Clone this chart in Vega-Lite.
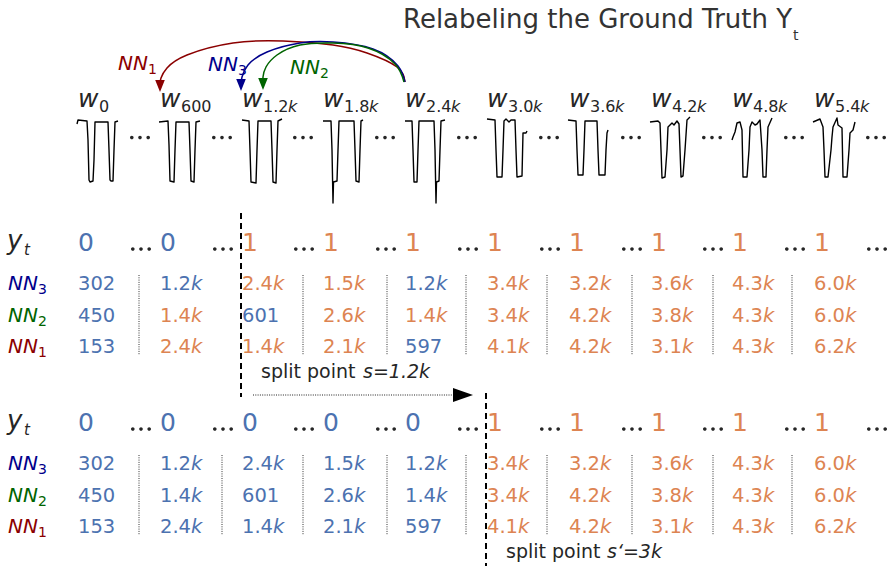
{
 "$schema": "https://vega.github.io/schema/vega-lite/v6.json",
 "width": 893, "height": 568, "padding": 0,
 "autosize": {"type": "fit", "contains": "padding"},
 "background": "white",
 "config": {"view": {"stroke": null}, "text": {"font": "DejaVu Sans", "baseline": "alphabetic", "align": "left"}},
 "datasets": {
  "title": [{"x": 403, "y": 28, "s": "Relabeling the Ground Truth Y"}],
  "titlesub": [{"x": 793, "y": 40, "s": "t"}],
  "windows": [
   {"x": 78, "y": 107, "sub": "0", "k": false},
   {"x": 160, "y": 107, "sub": "600", "k": false},
   {"x": 242, "y": 107, "sub": "1.2", "k": true},
   {"x": 323, "y": 107, "sub": "1.8", "k": true},
   {"x": 405, "y": 107, "sub": "2.4", "k": true},
   {"x": 487, "y": 107, "sub": "3.0", "k": true},
   {"x": 569, "y": 107, "sub": "3.6", "k": true},
   {"x": 651, "y": 107, "sub": "4.2", "k": true},
   {"x": 732, "y": 107, "sub": "4.8", "k": true},
   {"x": 814, "y": 107, "sub": "5.4", "k": true}
  ],
  "waves": [
   {"w":0,"i":0,"x":77,"y":124},{"w":0,"i":1,"x":78,"y":120},{"w":0,"i":2,"x":87,"y":121},{"w":0,"i":3,"x":88,"y":140},{"w":0,"i":4,"x":89,"y":180},{"w":0,"i":5,"x":90,"y":182},{"w":0,"i":6,"x":93,"y":181},{"w":0,"i":7,"x":94,"y":160},{"w":0,"i":8,"x":95,"y":122},{"w":0,"i":9,"x":108,"y":122},{"w":0,"i":10,"x":109,"y":150},{"w":0,"i":11,"x":110,"y":180},{"w":0,"i":12,"x":111,"y":181},{"w":0,"i":13,"x":113,"y":181},{"w":0,"i":14,"x":114,"y":150},{"w":0,"i":15,"x":115,"y":122},{"w":0,"i":16,"x":118,"y":121},
   {"w":1,"i":0,"x":159,"y":122},{"w":1,"i":1,"x":168,"y":121},{"w":1,"i":2,"x":169,"y":145},{"w":1,"i":3,"x":170,"y":181},{"w":1,"i":4,"x":174,"y":182},{"w":1,"i":5,"x":175,"y":150},{"w":1,"i":6,"x":176,"y":122},{"w":1,"i":7,"x":189,"y":122},{"w":1,"i":8,"x":190,"y":150},{"w":1,"i":9,"x":191,"y":181},{"w":1,"i":10,"x":194,"y":182},{"w":1,"i":11,"x":195,"y":150},{"w":1,"i":12,"x":196,"y":122},{"w":1,"i":13,"x":200,"y":121},
   {"w":2,"i":0,"x":242,"y":120},{"w":2,"i":1,"x":249,"y":121},{"w":2,"i":2,"x":250,"y":150},{"w":2,"i":3,"x":251,"y":182},{"w":2,"i":4,"x":256,"y":183},{"w":2,"i":5,"x":257,"y":150},{"w":2,"i":6,"x":258,"y":121},{"w":2,"i":7,"x":271,"y":121},{"w":2,"i":8,"x":272,"y":150},{"w":2,"i":9,"x":273,"y":182},{"w":2,"i":10,"x":276,"y":183},{"w":2,"i":11,"x":277,"y":150},{"w":2,"i":12,"x":278,"y":121},{"w":2,"i":13,"x":282,"y":119},
   {"w":3,"i":0,"x":323,"y":121},{"w":3,"i":1,"x":331,"y":121},{"w":3,"i":2,"x":332,"y":150},{"w":3,"i":3,"x":333,"y":203},{"w":3,"i":4,"x":333.5,"y":182},{"w":3,"i":5,"x":337,"y":181},{"w":3,"i":6,"x":338,"y":150},{"w":3,"i":7,"x":339,"y":121},{"w":3,"i":8,"x":354,"y":121},{"w":3,"i":9,"x":355,"y":150},{"w":3,"i":10,"x":356,"y":181},{"w":3,"i":11,"x":359,"y":182},{"w":3,"i":12,"x":360,"y":150},{"w":3,"i":13,"x":361,"y":121},{"w":3,"i":14,"x":363,"y":120},
   {"w":4,"i":0,"x":405,"y":121},{"w":4,"i":1,"x":412,"y":121},{"w":4,"i":2,"x":413,"y":150},{"w":4,"i":3,"x":414,"y":182},{"w":4,"i":4,"x":417,"y":182},{"w":4,"i":5,"x":418,"y":150},{"w":4,"i":6,"x":419,"y":121},{"w":4,"i":7,"x":434,"y":121},{"w":4,"i":8,"x":435,"y":150},{"w":4,"i":9,"x":436,"y":203},{"w":4,"i":10,"x":436.5,"y":182},{"w":4,"i":11,"x":439,"y":181},{"w":4,"i":12,"x":440,"y":150},{"w":4,"i":13,"x":441,"y":121},{"w":4,"i":14,"x":445,"y":120},
   {"w":5,"i":0,"x":487,"y":119},{"w":5,"i":1,"x":495,"y":120},{"w":5,"i":2,"x":496,"y":150},{"w":5,"i":3,"x":497,"y":177},{"w":5,"i":4,"x":502,"y":177},{"w":5,"i":5,"x":503,"y":150},{"w":5,"i":6,"x":504,"y":121},{"w":5,"i":7,"x":506,"y":119},{"w":5,"i":8,"x":509,"y":122},{"w":5,"i":9,"x":511,"y":120},{"w":5,"i":10,"x":515,"y":120},{"w":5,"i":11,"x":516,"y":150},{"w":5,"i":12,"x":517,"y":177},{"w":5,"i":13,"x":522,"y":176},{"w":5,"i":14,"x":523,"y":133},{"w":5,"i":15,"x":526,"y":133},{"w":5,"i":16,"x":527,"y":131},
   {"w":6,"i":0,"x":568,"y":120},{"w":6,"i":1,"x":576,"y":121},{"w":6,"i":2,"x":577,"y":150},{"w":6,"i":3,"x":578,"y":175},{"w":6,"i":4,"x":583,"y":175},{"w":6,"i":5,"x":584,"y":150},{"w":6,"i":6,"x":585,"y":121},{"w":6,"i":7,"x":597,"y":121},{"w":6,"i":8,"x":598,"y":150},{"w":6,"i":9,"x":599,"y":175},{"w":6,"i":10,"x":605,"y":175},{"w":6,"i":11,"x":606,"y":150},{"w":6,"i":12,"x":607,"y":133},{"w":6,"i":13,"x":608,"y":130},
   {"w":7,"i":0,"x":650,"y":122},{"w":7,"i":1,"x":658,"y":121},{"w":7,"i":2,"x":660,"y":123},{"w":7,"i":3,"x":661,"y":150},{"w":7,"i":4,"x":662,"y":178},{"w":7,"i":5,"x":665,"y":177},{"w":7,"i":6,"x":667,"y":150},{"w":7,"i":7,"x":668,"y":127},{"w":7,"i":8,"x":672,"y":123},{"w":7,"i":9,"x":674,"y":125},{"w":7,"i":10,"x":677,"y":121},{"w":7,"i":11,"x":679,"y":124},{"w":7,"i":12,"x":680,"y":150},{"w":7,"i":13,"x":681,"y":177},{"w":7,"i":14,"x":683,"y":176},{"w":7,"i":15,"x":685,"y":150},{"w":7,"i":16,"x":687,"y":120},{"w":7,"i":17,"x":690,"y":117},
   {"w":8,"i":0,"x":732,"y":140},{"w":8,"i":1,"x":733,"y":137},{"w":8,"i":2,"x":735,"y":132},{"w":8,"i":3,"x":737,"y":123},{"w":8,"i":4,"x":740,"y":122},{"w":8,"i":5,"x":742,"y":130},{"w":8,"i":6,"x":743,"y":177},{"w":8,"i":7,"x":747,"y":177},{"w":8,"i":8,"x":749,"y":150},{"w":8,"i":9,"x":750,"y":127},{"w":8,"i":10,"x":752,"y":122},{"w":8,"i":11,"x":755,"y":125},{"w":8,"i":12,"x":757,"y":124},{"w":8,"i":13,"x":760,"y":120},{"w":8,"i":14,"x":762,"y":150},{"w":8,"i":15,"x":763,"y":177},{"w":8,"i":16,"x":766,"y":177},{"w":8,"i":17,"x":767,"y":150},{"w":8,"i":18,"x":768,"y":127},{"w":8,"i":19,"x":772,"y":118},
   {"w":9,"i":0,"x":813,"y":122},{"w":9,"i":1,"x":820,"y":119},{"w":9,"i":2,"x":823,"y":127},{"w":9,"i":3,"x":824,"y":150},{"w":9,"i":4,"x":825,"y":177},{"w":9,"i":5,"x":828,"y":177},{"w":9,"i":6,"x":831,"y":150},{"w":9,"i":7,"x":832,"y":137},{"w":9,"i":8,"x":833,"y":127},{"w":9,"i":9,"x":837,"y":118},{"w":9,"i":10,"x":838,"y":125},{"w":9,"i":11,"x":842,"y":128},{"w":9,"i":12,"x":843,"y":177},{"w":9,"i":13,"x":847,"y":177},{"w":9,"i":14,"x":849,"y":150},{"w":9,"i":15,"x":850,"y":133},{"w":9,"i":16,"x":853,"y":130},{"w":9,"i":17,"x":855,"y":122}
  ],
  "arcs": [
   {"c":"NN1","i":0,"x":405,"y":82},{"c":"NN1","i":1,"x":397,"y":67},{"c":"NN1","i":2,"x":367,"y":53},{"c":"NN1","i":3,"x":333,"y":45},{"c":"NN1","i":4,"x":283,"y":41},{"c":"NN1","i":5,"x":233,"y":43},{"c":"NN1","i":6,"x":187,"y":55},{"c":"NN1","i":7,"x":167,"y":68},{"c":"NN1","i":8,"x":161,"y":78},{"c":"NN1","i":9,"x":160,"y":84},
   {"c":"NN3","i":0,"x":405,"y":82},{"c":"NN3","i":1,"x":398,"y":66},{"c":"NN3","i":2,"x":373,"y":49},{"c":"NN3","i":3,"x":333,"y":42},{"c":"NN3","i":4,"x":300,"y":43},{"c":"NN3","i":5,"x":267,"y":52},{"c":"NN3","i":6,"x":248,"y":65},{"c":"NN3","i":7,"x":242,"y":77},{"c":"NN3","i":8,"x":241,"y":84},
   {"c":"NN2","i":0,"x":404,"y":82},{"c":"NN2","i":1,"x":395,"y":64},{"c":"NN2","i":2,"x":368,"y":48},{"c":"NN2","i":3,"x":333,"y":43},{"c":"NN2","i":4,"x":300,"y":45},{"c":"NN2","i":5,"x":277,"y":55},{"c":"NN2","i":6,"x":266,"y":67},{"c":"NN2","i":7,"x":263,"y":77},{"c":"NN2","i":8,"x":263,"y":83}
  ],
  "archeads": [
   {"c":"NN1","x":160,"y":86},{"c":"NN3","x":241,"y":85},{"c":"NN2","x":263,"y":84}
  ],
  "nnlab": [
   {"x":118,"y":70,"n":"1","c":"NN1"},{"x":208,"y":71,"n":"3","c":"NN3"},{"x":290,"y":74,"n":"2","c":"NN2"},
   {"x":8,"y":290,"n":"3","c":"NN3"},{"x":8,"y":322,"n":"2","c":"NN2"},{"x":8,"y":353,"n":"1","c":"NN1"},
   {"x":8,"y":470,"n":"3","c":"NN3"},{"x":8,"y":502,"n":"2","c":"NN2"},{"x":8,"y":533,"n":"1","c":"NN1"}
  ],
  "ytlab": [{"x":7,"y":249},{"x":7,"y":429}],
  "dots": [
   {"x":140,"y":137.5},{"x":222,"y":137.5},{"x":303,"y":137.5},{"x":385,"y":137.5},{"x":467,"y":137.5},{"x":549,"y":137.5},{"x":631,"y":137.5},{"x":712,"y":137.5},{"x":794,"y":137.5},{"x":876,"y":137.5},
   {"x":141,"y":249},{"x":223,"y":249},{"x":304,"y":249},{"x":386,"y":249},{"x":468,"y":249},{"x":550,"y":249},{"x":632,"y":249},{"x":713,"y":249},{"x":795,"y":249},{"x":877,"y":249},
   {"x":141,"y":429},{"x":223,"y":429},{"x":304,"y":429},{"x":386,"y":429},{"x":468,"y":429},{"x":550,"y":429},{"x":632,"y":429},{"x":713,"y":429},{"x":795,"y":429},{"x":877,"y":429}
  ],
  "yt": [
   {"x":78,"y":251,"v":"0","c":"zero"},{"x":160,"y":251,"v":"0","c":"zero"},{"x":242,"y":251,"v":"1","c":"one"},{"x":323,"y":251,"v":"1","c":"one"},{"x":405,"y":251,"v":"1","c":"one"},{"x":487,"y":251,"v":"1","c":"one"},{"x":569,"y":251,"v":"1","c":"one"},{"x":651,"y":251,"v":"1","c":"one"},{"x":732,"y":251,"v":"1","c":"one"},{"x":814,"y":251,"v":"1","c":"one"},
   {"x":78,"y":431,"v":"0","c":"zero"},{"x":160,"y":431,"v":"0","c":"zero"},{"x":242,"y":431,"v":"0","c":"zero"},{"x":323,"y":431,"v":"0","c":"zero"},{"x":405,"y":431,"v":"0","c":"zero"},{"x":487,"y":431,"v":"1","c":"one"},{"x":569,"y":431,"v":"1","c":"one"},{"x":651,"y":431,"v":"1","c":"one"},{"x":732,"y":431,"v":"1","c":"one"},{"x":814,"y":431,"v":"1","c":"one"}
  ],
  "cells": [
   {"x":78,"y":290,"v":"302","k":false,"c":"zero"},{"x":160,"y":290,"v":"1.2","k":true,"c":"zero"},{"x":242,"y":290,"v":"2.4","k":true,"c":"one"},{"x":323,"y":290,"v":"1.5","k":true,"c":"one"},{"x":405,"y":290,"v":"1.2","k":true,"c":"zero"},{"x":487,"y":290,"v":"3.4","k":true,"c":"one"},{"x":569,"y":290,"v":"3.2","k":true,"c":"one"},{"x":651,"y":290,"v":"3.6","k":true,"c":"one"},{"x":732,"y":290,"v":"4.3","k":true,"c":"one"},{"x":814,"y":290,"v":"6.0","k":true,"c":"one"},
   {"x":78,"y":322,"v":"450","k":false,"c":"zero"},{"x":160,"y":322,"v":"1.4","k":true,"c":"one"},{"x":242,"y":322,"v":"601","k":false,"c":"zero"},{"x":323,"y":322,"v":"2.6","k":true,"c":"one"},{"x":405,"y":322,"v":"1.4","k":true,"c":"one"},{"x":487,"y":322,"v":"3.4","k":true,"c":"one"},{"x":569,"y":322,"v":"4.2","k":true,"c":"one"},{"x":651,"y":322,"v":"3.8","k":true,"c":"one"},{"x":732,"y":322,"v":"4.3","k":true,"c":"one"},{"x":814,"y":322,"v":"6.0","k":true,"c":"one"},
   {"x":78,"y":353,"v":"153","k":false,"c":"zero"},{"x":160,"y":353,"v":"2.4","k":true,"c":"one"},{"x":242,"y":353,"v":"1.4","k":true,"c":"one"},{"x":323,"y":353,"v":"2.1","k":true,"c":"one"},{"x":405,"y":353,"v":"597","k":false,"c":"zero"},{"x":487,"y":353,"v":"4.1","k":true,"c":"one"},{"x":569,"y":353,"v":"4.2","k":true,"c":"one"},{"x":651,"y":353,"v":"3.1","k":true,"c":"one"},{"x":732,"y":353,"v":"4.3","k":true,"c":"one"},{"x":814,"y":353,"v":"6.2","k":true,"c":"one"},
   {"x":78,"y":470,"v":"302","k":false,"c":"zero"},{"x":160,"y":470,"v":"1.2","k":true,"c":"zero"},{"x":242,"y":470,"v":"2.4","k":true,"c":"zero"},{"x":323,"y":470,"v":"1.5","k":true,"c":"zero"},{"x":405,"y":470,"v":"1.2","k":true,"c":"zero"},{"x":487,"y":470,"v":"3.4","k":true,"c":"one"},{"x":569,"y":470,"v":"3.2","k":true,"c":"one"},{"x":651,"y":470,"v":"3.6","k":true,"c":"one"},{"x":732,"y":470,"v":"4.3","k":true,"c":"one"},{"x":814,"y":470,"v":"6.0","k":true,"c":"one"},
   {"x":78,"y":502,"v":"450","k":false,"c":"zero"},{"x":160,"y":502,"v":"1.4","k":true,"c":"zero"},{"x":242,"y":502,"v":"601","k":false,"c":"zero"},{"x":323,"y":502,"v":"2.6","k":true,"c":"zero"},{"x":405,"y":502,"v":"1.4","k":true,"c":"zero"},{"x":487,"y":502,"v":"3.4","k":true,"c":"one"},{"x":569,"y":502,"v":"4.2","k":true,"c":"one"},{"x":651,"y":502,"v":"3.8","k":true,"c":"one"},{"x":732,"y":502,"v":"4.3","k":true,"c":"one"},{"x":814,"y":502,"v":"6.0","k":true,"c":"one"},
   {"x":78,"y":533,"v":"153","k":false,"c":"zero"},{"x":160,"y":533,"v":"2.4","k":true,"c":"zero"},{"x":242,"y":533,"v":"1.4","k":true,"c":"zero"},{"x":323,"y":533,"v":"2.1","k":true,"c":"zero"},{"x":405,"y":533,"v":"597","k":false,"c":"zero"},{"x":487,"y":533,"v":"4.1","k":true,"c":"one"},{"x":569,"y":533,"v":"4.2","k":true,"c":"one"},{"x":651,"y":533,"v":"3.1","k":true,"c":"one"},{"x":732,"y":533,"v":"4.3","k":true,"c":"one"},{"x":814,"y":533,"v":"6.2","k":true,"c":"one"}
  ],
  "seps": [
   {"x":139,"y":275,"y2":355},{"x":303,"y":275,"y2":355},{"x":387,"y":275,"y2":355},{"x":466,"y":275,"y2":355},{"x":547,"y":275,"y2":355},{"x":632,"y":275,"y2":355},{"x":713,"y":275,"y2":355},{"x":792,"y":275,"y2":355},
   {"x":139,"y":455,"y2":535},{"x":222,"y":455,"y2":535},{"x":303,"y":455,"y2":535},{"x":387,"y":455,"y2":535},{"x":466,"y":455,"y2":535},{"x":547,"y":455,"y2":535},{"x":632,"y":455,"y2":535},{"x":713,"y":455,"y2":535},{"x":792,"y":455,"y2":535}
  ],
  "splits": [{"x":241,"y":213,"y2":397},{"x":486,"y":393,"y2":566}],
  "arrowline": [{"x":253,"x2":455,"y":395}],
  "arrowhead": [{"x":463,"y":395}],
  "splittext": [{"x":261,"y":378,"s":"split point"},{"x":506,"y":558,"s":"split point"}],
  "splitmath": [{"x":363,"y":378,"s":"s=1.2k"},{"x":607,"y":558,"s":"s‘=3k"}]
 },
 "encoding": {
  "x": {"field": "x", "type": "quantitative", "scale": {"domain": [0, 893], "nice": false, "zero": false}, "axis": null},
  "y": {"field": "y", "type": "quantitative", "scale": {"domain": [0, 568], "nice": false, "zero": false, "reverse": true}, "axis": null}
 },
 "layer": [
  {"data": {"name": "waves"}, "mark": {"type": "line", "color": "black", "strokeWidth": 1.4, "strokeJoin": "round"},
   "encoding": {"detail": {"field": "w", "type": "nominal"}, "order": {"field": "i", "type": "quantitative"}}},
  {"data": {"name": "arcs"}, "mark": {"type": "line", "strokeWidth": 1.5, "interpolate": "natural"},
   "encoding": {"color": {"field": "c", "type": "nominal", "scale": {"domain": ["zero","one","NN1","NN2","NN3"], "range": ["#4C72B0","#DD8452","#8B0000","#006400","#00008B"]}, "legend": null}, "order": {"field": "i", "type": "quantitative"}}},
  {"data": {"name": "archeads"}, "mark": {"type": "point", "filled": true, "opacity": 1, "shape": "M-0.8,-1L0.8,-1L0,1Z", "size": 144, "strokeWidth": 0},
   "encoding": {"color": {"field": "c", "type": "nominal", "scale": {"domain": ["zero","one","NN1","NN2","NN3"], "range": ["#4C72B0","#DD8452","#8B0000","#006400","#00008B"]}, "legend": null}}},
  {"data": {"name": "title"}, "mark": {"type": "text", "fontSize": 26, "color": "#333333"}, "encoding": {"text": {"field": "s"}}},
  {"data": {"name": "titlesub"}, "mark": {"type": "text", "fontSize": 14, "color": "#333333"}, "encoding": {"text": {"field": "s"}}},
  {"data": {"name": "windows"}, "mark": {"type": "text", "fontSize": 25, "fontStyle": "italic", "color": "#262626", "text": "w"}},
  {"data": {"name": "windows"}, "mark": {"type": "text", "fontSize": 16, "color": "#262626", "dx": 21, "dy": 5}, "encoding": {"text": {"field": "sub"}}},
  {"data": {"name": "windows"}, "transform": [{"filter": "datum.k"}], "mark": {"type": "text", "fontSize": 16, "fontStyle": "italic", "color": "#262626", "dx": 46, "dy": 5, "text": "k"}},
  {"data": {"name": "dots"}, "mark": {"type": "point", "filled": true, "opacity": 1, "color": "#262626", "strokeWidth": 0, "size": 400,
   "shape": "M-1,0a0.18,0.18 0 1,0 0.36,0a0.18,0.18 0 1,0 -0.36,0Z M-0.18,0a0.18,0.18 0 1,0 0.36,0a0.18,0.18 0 1,0 -0.36,0Z M0.64,0a0.18,0.18 0 1,0 0.36,0a0.18,0.18 0 1,0 -0.36,0Z"}},
  {"data": {"name": "ytlab"}, "mark": {"type": "text", "fontSize": 26, "fontStyle": "italic", "color": "#262626", "text": "y"}},
  {"data": {"name": "ytlab"}, "mark": {"type": "text", "fontSize": 15, "fontStyle": "italic", "color": "#262626", "dx": 17, "dy": 6, "text": "t"}},
  {"data": {"name": "yt"}, "mark": {"type": "text", "fontSize": 25},
   "encoding": {"text": {"field": "v"}, "color": {"field": "c", "type": "nominal", "scale": {"domain": ["zero","one","NN1","NN2","NN3"], "range": ["#4C72B0","#DD8452","#8B0000","#006400","#00008B"]}, "legend": null}}},
  {"data": {"name": "nnlab"}, "mark": {"type": "text", "fontSize": 20, "fontStyle": "italic", "text": "NN"},
   "encoding": {"color": {"field": "c", "type": "nominal", "scale": {"domain": ["zero","one","NN1","NN2","NN3"], "range": ["#4C72B0","#DD8452","#8B0000","#006400","#00008B"]}, "legend": null}}},
  {"data": {"name": "nnlab"}, "mark": {"type": "text", "fontSize": 14, "dx": 30, "dy": 3.5},
   "encoding": {"text": {"field": "n"}, "color": {"field": "c", "type": "nominal", "scale": {"domain": ["zero","one","NN1","NN2","NN3"], "range": ["#4C72B0","#DD8452","#8B0000","#006400","#00008B"]}, "legend": null}}},
  {"data": {"name": "cells"}, "mark": {"type": "text", "fontSize": 19.5},
   "encoding": {"text": {"field": "v"}, "color": {"field": "c", "type": "nominal", "scale": {"domain": ["zero","one","NN1","NN2","NN3"], "range": ["#4C72B0","#DD8452","#8B0000","#006400","#00008B"]}, "legend": null}}},
  {"data": {"name": "cells"}, "transform": [{"filter": "datum.k"}], "mark": {"type": "text", "fontSize": 19.5, "fontStyle": "italic", "dx": 31, "text": "k"},
   "encoding": {"color": {"field": "c", "type": "nominal", "scale": {"domain": ["zero","one","NN1","NN2","NN3"], "range": ["#4C72B0","#DD8452","#8B0000","#006400","#00008B"]}, "legend": null}}},
  {"data": {"name": "seps"}, "mark": {"type": "rule", "color": "#333333", "strokeWidth": 1, "strokeDash": [1, 1.3]},
   "encoding": {"y2": {"field": "y2"}}},
  {"data": {"name": "splits"}, "mark": {"type": "rule", "color": "black", "strokeWidth": 2, "strokeDash": [6, 4]},
   "encoding": {"y2": {"field": "y2"}}},
  {"data": {"name": "arrowline"}, "mark": {"type": "rule", "color": "#222222", "strokeWidth": 1, "strokeDash": [1, 1.3]},
   "encoding": {"x2": {"field": "x2"}}},
  {"data": {"name": "arrowhead"}, "mark": {"type": "point", "filled": true, "opacity": 1, "color": "black", "shape": "M-1,-0.7L1,0L-1,0.7Z", "size": 400, "strokeWidth": 0}},
  {"data": {"name": "splittext"}, "mark": {"type": "text", "fontSize": 19, "color": "#262626"}, "encoding": {"text": {"field": "s"}}},
  {"data": {"name": "splitmath"}, "mark": {"type": "text", "fontSize": 19, "fontStyle": "italic", "color": "#262626"}, "encoding": {"text": {"field": "s"}}}
 ]
}
